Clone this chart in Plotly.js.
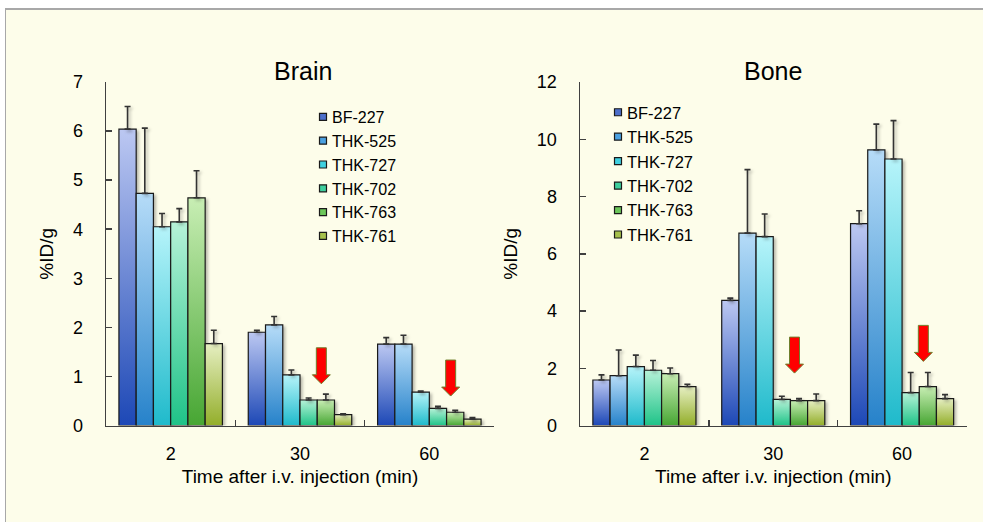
<!DOCTYPE html>
<html>
<head>
<meta charset="utf-8">
<script src="https://cdn.plot.ly/plotly-3.0.1.min.js"></script>
<style>
  html, body { margin: 0; padding: 0; background: #ffffff; }
  #frame { position: absolute; left: 5px; top: 8px; width: 1000px; height: 540px;
           background: #fdfdea; border-left: 1px solid #a8a8a8; border-top: 2px solid #a8a8a8; }
  #chart { position: absolute; left: 0; top: 0; width: 983px; height: 522px; }
  .trace.bars path { filter: drop-shadow(2px 2px 1.5px rgba(0,0,0,0.28)); }
</style>
</head>
<body>
<div id="frame"></div>
<div id="chart"></div>
<script>
// ---- data ----
const times = ['2', '30', '60'];
const compounds = ['BF-227', 'THK-525', 'THK-727', 'THK-702', 'THK-763', 'THK-761'];

// Brain %ID/g (mean) and upper SD
const brainBF227  = [6.04, 1.90, 1.66];
const brainTHK525 = [4.73, 2.05, 1.66];
const brainTHK727 = [4.05, 1.03, 0.68];
const brainTHK702 = [4.15, 0.52, 0.35];
const brainTHK763 = [4.64, 0.52, 0.27];
const brainTHK761 = [1.67, 0.22, 0.13];
const brainSdBF227  = [0.46, 0.04, 0.13];
const brainSdTHK525 = [1.33, 0.17, 0.18];
const brainSdTHK727 = [0.27, 0.10, 0.02];
const brainSdTHK702 = [0.27, 0.04, 0.04];
const brainSdTHK763 = [0.55, 0.12, 0.04];
const brainSdTHK761 = [0.27, 0.02, 0.03];

// Bone %ID/g (mean) and upper SD
const boneBF227  = [1.59, 4.37, 7.05];
const boneTHK525 = [1.74, 6.72, 9.63];
const boneTHK727 = [2.06, 6.60, 9.31];
const boneTHK702 = [1.93, 0.91, 1.15];
const boneTHK763 = [1.81, 0.87, 1.36];
const boneTHK761 = [1.36, 0.87, 0.94];
const boneSdBF227  = [0.18, 0.08, 0.45];
const boneSdTHK525 = [0.90, 2.22, 0.90];
const boneSdTHK727 = [0.40, 0.79, 1.34];
const boneSdTHK702 = [0.34, 0.11, 0.70];
const boneSdTHK763 = [0.20, 0.07, 0.49];
const boneSdTHK761 = [0.08, 0.23, 0.14];

// arrows: pointing at THK-763 (index 4) at 30 and 60 min; tip value
const arrowTimes = ['30', '60'];
const brainArrowTip = [0.85, 0.60];
const boneArrowTip  = [1.83, 2.24];

// ---- styling ----
const midColors = ['#4d6fcb', '#4aa0e0', '#3fd0e0', '#3ecf9e', '#6cc65a', '#a6c04c'];
const topColors = ['#bcc8f2', '#b6dcf8', '#b6f4fa', '#b6f2d8', '#c8eeb4', '#e6efc2'];
const botColors = ['#1d48b6', '#2682ca', '#1fbacb', '#1fc388', '#47a633', '#93ae2a'];

const brainMeans = [brainBF227, brainTHK525, brainTHK727, brainTHK702, brainTHK763, brainTHK761];
const brainSds = [brainSdBF227, brainSdTHK525, brainSdTHK727, brainSdTHK702, brainSdTHK763, brainSdTHK761];
const boneMeans = [boneBF227, boneTHK525, boneTHK727, boneTHK702, boneTHK763, boneTHK761];
const boneSds = [boneSdBF227, boneSdTHK525, boneSdTHK727, boneSdTHK702, boneSdTHK763, boneSdTHK761];

const FONT = 'Liberation Sans, Arial, sans-serif';
const traces = [];
function addSet(means, sds, xa, ya, leg) {
  compounds.forEach((c, i) => {
    traces.push({
      type: 'bar', name: c, x: times, y: means[i],
      xaxis: xa, yaxis: ya, legend: leg,
      marker: { color: midColors[i], line: { color: '#1a1a1a', width: 1.2 } },
      error_y: { type: 'data', symmetric: false, array: sds[i], arrayminus: sds[i].map(() => 0),
                 color: '#333333', thickness: 1.6, width: 3 },
      hoverinfo: 'none'
    });
  });
}
addSet(brainMeans, brainSds, 'x', 'y', 'legend');
addSet(boneMeans, boneSds, 'x2', 'y2', 'legend2');

// bar slot offset for THK-763 inside a category group
const nBars = compounds.length, groupFrac = 0.8;
const slot = (k) => -groupFrac / 2 + groupFrac / nBars * (k + 0.5);
const arrowPath = 'M0,0 L9,9 L5,9 L5,36 L-5,36 L-5,9 L-9,9 Z';
const shapes = [];
function addArrows(tips, xr, yr) {
  arrowTimes.forEach((t, j) => {
    shapes.push({
      type: 'path', xref: xr, yref: yr, xsizemode: 'pixel', ysizemode: 'pixel',
      xanchor: times.indexOf(t) + slot(4) - 0.035, yanchor: tips[j],
      path: arrowPath, fillcolor: '#ff0000', line: { color: '#6f7f2c', width: 1 }
    });
  });
}
addArrows(brainArrowTip, 'x', 'y');
addArrows(boneArrowTip, 'x2', 'y2');

const axBase = {
  type: 'category', categoryorder: 'array', categoryarray: times, range: [-0.5, 2.5],
  showline: true, linecolor: '#404040', linewidth: 1.5, ticks: 'inside', ticklen: 6,
  tickcolor: '#404040', tickwidth: 1.5, tickson: 'boundaries', showgrid: false,
  tickfont: { family: FONT, size: 18, color: '#000' }, ticklabelstandoff: 11,
  title: { text: 'Time after i.v. injection (min)', font: { family: FONT, size: 19, color: '#000' }, standoff: 7 }
};
const yBase = {
  showline: true, linecolor: '#404040', linewidth: 1.5, ticks: 'inside', ticklen: 6,
  tickcolor: '#404040', tickwidth: 1.5, showgrid: false, zeroline: false,
  tickfont: { family: FONT, size: 18, color: '#000' }, ticklabelstandoff: 18,
  title: { text: '%ID/g', font: { family: FONT, size: 19, color: '#000' }, standoff: 14 }
};
const yDom = [(522 - 425.5) / 522, (522 - 82) / 522];
const legBase = {
  font: { family: FONT, size: 16.5, color: '#000' }, bgcolor: 'rgba(0,0,0,0)',
  xanchor: 'left', yanchor: 'top', tracegroupgap: 0, itemclick: false
};

const layout = {
  width: 983, height: 522,
  margin: { l: 0, r: 0, t: 0, b: 0 },
  paper_bgcolor: 'rgba(0,0,0,0)', plot_bgcolor: 'rgba(0,0,0,0)',
  barmode: 'group', bargap: 0.2, bargroupgap: 0,
  showlegend: true,
  xaxis: Object.assign({}, axBase, { domain: [106 / 983, 494 / 983], anchor: 'y' }),
  xaxis2: Object.assign({}, axBase, { domain: [580 / 983, 966.5 / 983], anchor: 'y2' }),
  yaxis: Object.assign({}, yBase, { domain: yDom, range: [0, 7], dtick: 1, anchor: 'x' }),
  yaxis2: Object.assign({}, yBase, { domain: yDom, range: [0, 12], dtick: 2, anchor: 'x2' }),
  legend: Object.assign({}, legBase, { x: 292 / 983, y: 1 - 100 / 522, font: { family: FONT, size: 16, color: '#000' } }),
  legend2: Object.assign({}, legBase, { x: 587 / 983, y: 1 - 95 / 522 }),
  annotations: [
    { text: 'Brain', xref: 'paper', yref: 'paper', x: 303 / 983, y: 1 - 71 / 522, showarrow: false,
      xanchor: 'center', yanchor: 'middle', font: { family: FONT, size: 25, color: '#000' } },
    { text: 'Bone', xref: 'paper', yref: 'paper', x: 773 / 983, y: 1 - 71 / 522, showarrow: false,
      xanchor: 'center', yanchor: 'middle', font: { family: FONT, size: 25, color: '#000' } }
  ],
  shapes: shapes
};

Plotly.newPlot('chart', traces, layout, { staticPlot: true, displayModeBar: false }).then(gd => {
  // add vertical gradients for the bars
  const svg = gd.querySelector('svg.main-svg');
  const NS = 'http://www.w3.org/2000/svg';
  let defs = svg.querySelector('defs');
  if (!defs) { defs = document.createElementNS(NS, 'defs'); svg.insertBefore(defs, svg.firstChild); }
  compounds.forEach((c, i) => {
    const g = document.createElementNS(NS, 'linearGradient');
    g.setAttribute('id', 'barGrad' + i);
    g.setAttribute('x1', '0'); g.setAttribute('y1', '0'); g.setAttribute('x2', '0'); g.setAttribute('y2', '1');
    const s1 = document.createElementNS(NS, 'stop'); s1.setAttribute('offset', '0'); s1.setAttribute('stop-color', topColors[i]);
    const s2 = document.createElementNS(NS, 'stop'); s2.setAttribute('offset', '1'); s2.setAttribute('stop-color', botColors[i]);
    g.appendChild(s1); g.appendChild(s2); defs.appendChild(g);
  });
  gd.querySelectorAll('g.trace.bars').forEach(tg => {
    const cd = tg.__data__;
    if (!cd || !cd[0]) return;
    const idx = compounds.indexOf(cd[0].trace.name);
    tg.querySelectorAll('.point path').forEach(p => { p.style.fill = 'url(#barGrad' + idx + ')'; });
  });
  // smaller legend squares placed close to the text (both legends)
  gd.querySelectorAll('g.legendpoints path').forEach(p => {
    p.setAttribute('d', 'M3.5,3.5H-3.5V-3.5H3.5Z');
    p.setAttribute('transform', 'translate(31,0)');
  });
});
</script>
</body>
</html>
